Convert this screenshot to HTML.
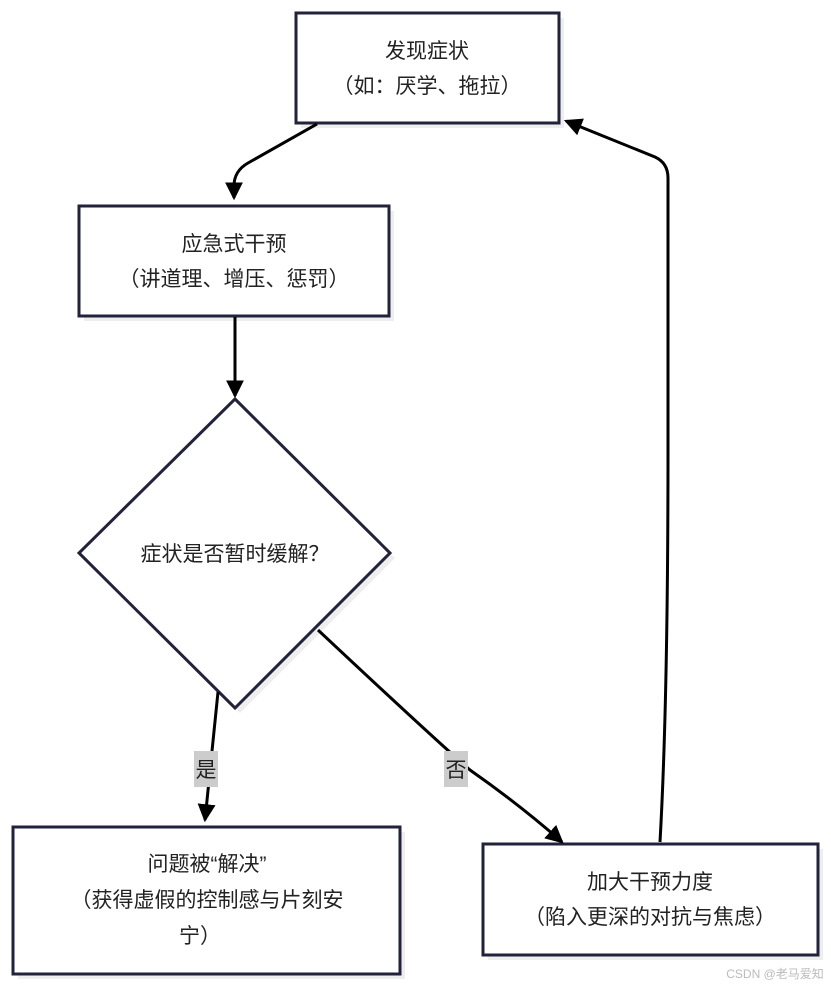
<!DOCTYPE html>
<html><head><meta charset="utf-8"><style>
body{margin:0;background:#fff;}
svg text{font-family:"Liberation Sans","Noto Sans CJK SC",sans-serif;font-size:21px;fill:#222;text-anchor:middle;}
</style></head><body>
<svg width="831" height="988" viewBox="0 0 831 988" xmlns="http://www.w3.org/2000/svg">
<defs><marker id="a" markerWidth="18" markerHeight="18" refX="14" refY="8" orient="auto" markerUnits="userSpaceOnUse" viewBox="0 0 16 16"><path d="M0,0L16,8L0,16z" fill="#000"/></marker></defs>
<g fill="#eee"><rect x="301" y="18" width="263" height="110"/><rect x="84" y="211" width="310" height="110"/><rect x="18" y="832" width="387" height="147"/><rect x="488" y="849" width="335" height="111"/><polygon points="240,404 395,558 240,713 84,558"/></g>
<g fill="#fff" stroke="#22223a" stroke-width="3">
<rect x="296" y="13" width="263" height="110"/>
<rect x="79" y="206" width="310" height="110"/>
<polygon points="235,399 390,553 235,708 79,553"/>
<rect x="13" y="827" width="387" height="147"/>
<rect x="483" y="844" width="335" height="111"/>
</g>
<g fill="none" stroke="#000" stroke-width="3">
<path d="M317,124 L248,163 Q234,171 234,186 L234,198" marker-end="url(#a)"/>
<path d="M235,317 L235,396" marker-end="url(#a)"/>
<path d="M218,692 L205,820" marker-end="url(#a)"/>
<path d="M318,630 Q430,735 470,770 Q520,805 562,842" marker-end="url(#a)"/>
<path d="M660,842 Q668,700 668,450 L668,178 Q668,163 655,157 L566,121" marker-end="url(#a)"/>
</g>
<rect x="194" y="751" width="24" height="36" fill="#ccc"/><text x="206" y="777">是</text>
<rect x="444" y="751" width="24" height="36" fill="#ccc"/><text x="456" y="777">否</text>
<text x="427" y="58">发现症状</text><text x="427" y="93">（如：厌学、拖拉）</text>
<text x="234" y="251">应急式干预</text><text x="234" y="286">（讲道理、增压、惩罚）</text>
<text x="235" y="561">症状是否暂时缓解？</text>
<text x="207" y="871">问题被“解决”</text><text x="207" y="907">（获得虚假的控制感与片刻安</text><text x="200" y="943">宁）</text>
<text x="650" y="889">加大干预力度</text><text x="650" y="924">（陷入更深的对抗与焦虑）</text>
<text x="775" y="978" style="font-size:12px;fill:#bbb">CSDN @老马爱知</text>
</svg>
</body></html>
